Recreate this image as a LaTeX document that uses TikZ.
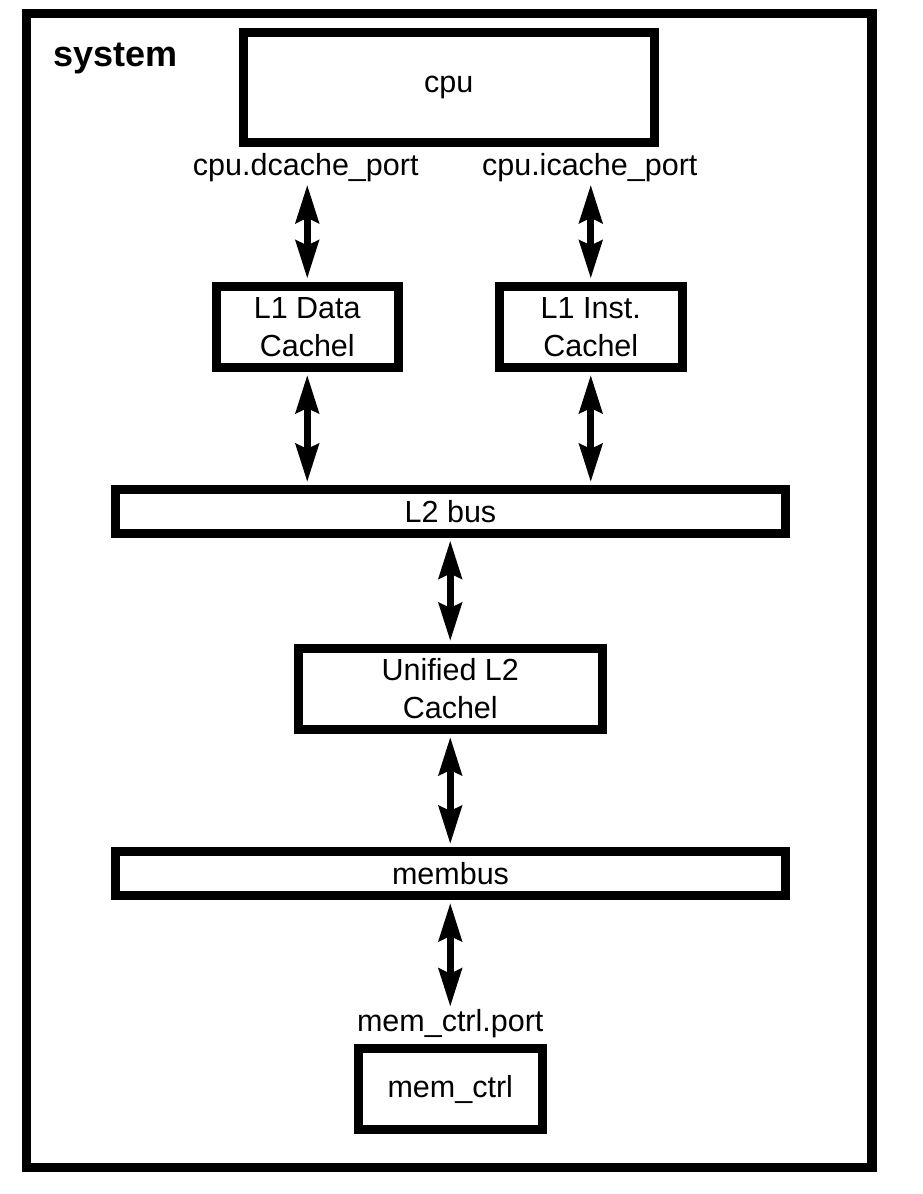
\documentclass[tikz,border=0pt]{standalone}
\usepackage{fontspec}
\setmainfont{Liberation Sans}
\usetikzlibrary{arrows.meta,positioning}

\tikzset{
  blk/.style={draw, line width=9pt, inner sep=0pt, align=center,
    font=\fontsize{30.5}{38}\selectfont},
  portlbl/.style={inner sep=0pt, font=\fontsize{30.5}{38}\selectfont},
  link/.style={{Stealth[length=38pt,width=23pt,inset=5pt]}-{Stealth[length=38pt,width=23pt,inset=5pt]},
    line width=7pt, shorten <=3pt, shorten >=3pt}
}

\begin{document}
\begin{tikzpicture}[x=1pt, y=-1pt]
	  \useasboundingbox (0,0) rectangle (922,1194);
	  \draw[line width=9.5pt] (26.5,13.5) rectangle (872,1167.5);
	  \node[inner sep=0pt, anchor=base west, font=\fontsize{36}{43}\selectfont\bfseries] (sys) at (53,66) {system};

	  % Define nodes
	  \node[blk, minimum width=410.5pt, minimum height=110pt] (cpu) at (448.75,87.5) {cpu};
	  \node[portlbl, below=6pt of cpu, xshift=-143pt] (dport) {cpu.dcache\_port};
	  \node[portlbl, below=6pt of cpu, xshift=141pt]  (iport) {cpu.icache\_port};
	  \node[blk, minimum width=182.5pt, minimum height=81.5pt] (l1d) at (307.25,326.75) {L1 Data\\Cachel};
	  \node[blk, minimum width=182.5pt, minimum height=81.5pt] (l1i) at (590.75,326.75) {L1 Inst.\\Cachel};
	  \node[blk, minimum width=670pt, minimum height=43.5pt] (l2bus) at (450.5,511.25) {L2 bus};
	  \node[blk, minimum width=304.5pt, minimum height=81pt] (l2) at (450.25,689) {Unified L2\\Cachel};
	  \node[blk, minimum width=670pt, minimum height=44pt] (membus) at (450.5,873.5) {membus};
	  \node[blk, minimum width=183.5pt, minimum height=81pt] (memctrl) at (450.25,1089) {mem\_ctrl};
	  \node[portlbl, above=5.5pt of memctrl] (mport) {mem\_ctrl.port};

	  % Connect the nodes
	  \draw[link] (l1d.north |- dport.south) -- (l1d.north);
	  \draw[link] (l1i.north |- iport.south) -- (l1i.north);
	  \draw[link] (l1d.south) -- (l1d.south |- l2bus.north);
	  \draw[link] (l1i.south) -- (l1i.south |- l2bus.north);
	  \draw[link] (l2.north |- l2bus.south) -- (l2.north);
	  \draw[link] (l2.south) -- (l2.south |- membus.north);
	  \draw[link] (memctrl.north |- membus.south) -- (mport.north);
	\end{tikzpicture}
\end{document}
